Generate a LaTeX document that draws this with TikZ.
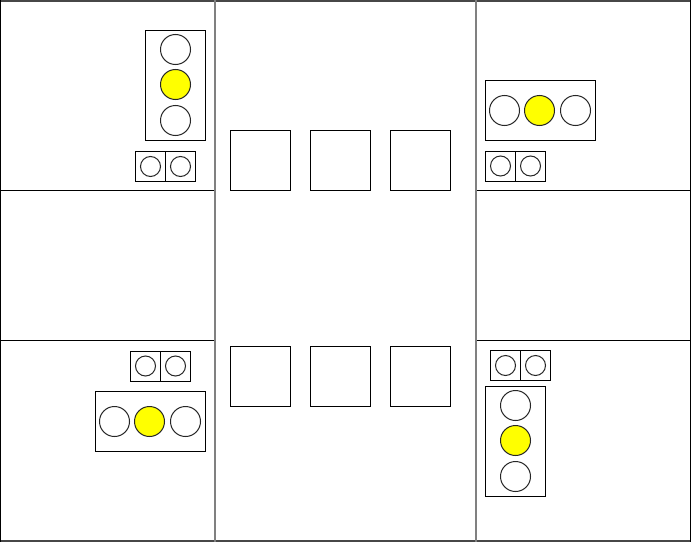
\documentclass[tikz,border=0pt]{standalone}
\definecolor{lampyellow}{RGB}{255,255,0}
\tikzset{
  plan/.style={x=0.75pt,y=-0.75pt,line width=0.75pt},
  frameline/.style={draw=black},
  streetline/.style={draw=black!50,line width=1.5pt},
  edgeline/.style={draw=black!72,line width=1.5pt},
  boxshape/.style={draw=black,fill=white},
  lamp/.style={draw=black!85,fill=white},
  lit/.style={draw=black!85,fill=lampyellow}
}
\newcommand{\smallsignal}[3]{%
  \draw[boxshape] (#1,#2) rectangle ++(60,30);
  \draw[frameline] (#1+30,#2) -- ++(0,30);
  \draw[lamp] (#1+15,#3) circle[radius=10];
  \draw[lamp] (#1+45,#3) circle[radius=10];
}
\begin{document}
\begin{tikzpicture}[plan]
\useasboundingbox (0,0) rectangle (691,542);
\fill[white] (0,0) rectangle (691,542);
% outer frame and streets
\draw[edgeline] (0,1) -- (691,1);
\draw[edgeline] (0,541) -- (691,541);
\draw[frameline] (0.5,0) -- (0.5,542);
\draw[frameline] (690.5,0) -- (690.5,542);
\draw[streetline] (215,0) -- (215,542);
\draw[streetline] (476,0) -- (476,542);
\draw[frameline] (0.5,190.5) -- (214,190.5);
\draw[frameline] (0.5,340.5) -- (214,340.5);
\draw[frameline] (477,190.5) -- (690.5,190.5);
\draw[frameline] (477,340.5) -- (690.5,340.5);
% squares
\foreach \sx in {230.5,310.5,390.5}{
  \draw[boxshape] (\sx,130.5) rectangle ++(60,60);
  \draw[boxshape] (\sx,346.5) rectangle ++(60,60);
}
% top-left signal
\draw[boxshape] (145.5,30.5) rectangle (205.5,140.5);
\draw[lamp] (175.5,49.5) circle[radius=15];
\draw[lit] (175.5,84.5) circle[radius=15];
\draw[lamp] (175.5,120.5) circle[radius=15];
\smallsignal{135.5}{151.5}{166.5}
% top-right signal
\draw[boxshape] (485.5,80.5) rectangle (595.5,140.5);
\draw[lamp] (504.5,110.5) circle[radius=15];
\draw[lit] (539.5,110.5) circle[radius=15];
\draw[lamp] (575.5,110.5) circle[radius=15];
\smallsignal{485.5}{151}{166}
% bottom-left signal
\smallsignal{130.5}{351}{366}
\draw[boxshape] (95.5,391.5) rectangle (205.5,451.5);
\draw[lamp] (114.5,421.5) circle[radius=15];
\draw[lit] (149.5,421.5) circle[radius=15];
\draw[lamp] (185.5,421.5) circle[radius=15];
% bottom-right signal
\smallsignal{490.5}{350.5}{365.5}
\draw[boxshape] (485.5,386.5) rectangle (545.5,496.5);
\draw[lamp] (515.5,405.5) circle[radius=15];
\draw[lit] (515.5,440.5) circle[radius=15];
\draw[lamp] (515.5,476.5) circle[radius=15];
\end{tikzpicture}
\end{document}
